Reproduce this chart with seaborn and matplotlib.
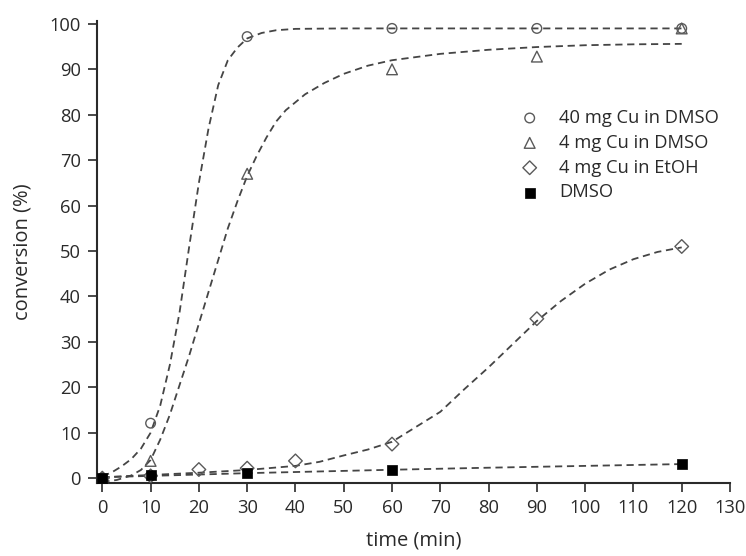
import matplotlib
matplotlib.use("Agg")
import matplotlib.pyplot as plt
import seaborn as sns

# measured points (time in min, conversion in %)
t_cu40 = [0, 10, 30, 60, 90, 120]
y_cu40 = [0, 12.1, 97.2, 99.0, 99.0, 99.0]

t_cu4 = [0, 10, 30, 60, 90, 120]
y_cu4 = [0, 3.8, 67.0, 90.0, 92.8, 99.0]

t_etoh = [0, 10, 20, 30, 40, 60, 90, 120]
y_etoh = [0, 0.5, 1.9, 2.2, 3.8, 7.5, 35.1, 51.0]

t_dmso = [0, 10, 30, 60, 120]
y_dmso = [0.1, 0.6, 1.1, 1.8, 3.15]

# fitted curves
fit_t_cu40 = [0, 2, 4, 6, 8, 10, 12, 14, 16, 18, 20, 22, 24, 26, 28, 30, 33, 36, 40, 50, 60, 90, 120]
fit_y_cu40 = [0.4, 1.3, 2.6, 4.2, 6.5, 10.0, 16.0, 25.0, 36.5, 51.0, 65.0, 77.0, 86.5, 92.0, 94.8, 96.8,
              98.0, 98.6, 98.9, 99.0, 99.0, 99.0, 99.0]

fit_t_cu4 = [0, 3, 6, 8, 10, 12, 14, 16, 18, 20, 22, 24, 26, 28, 30, 32, 34, 36, 38, 42, 46, 50, 55,
             60, 70, 80, 90, 100, 110, 120]
fit_y_cu4 = [-0.8, -0.4, 0.6, 1.8, 4.0, 8.5, 14.0, 20.5, 27.0, 34.0, 41.0, 48.0, 55.0, 61.0, 66.5, 71.0,
             75.0, 78.5, 81.0, 84.5, 87.0, 89.0, 90.8, 92.0, 93.4, 94.3, 94.9, 95.3, 95.5, 95.6]

fit_t_etoh = [0, 10, 20, 30, 40, 45, 50, 55, 60, 65, 70, 75, 80, 85, 90, 95, 100, 105, 110, 115, 120]
fit_y_etoh = [0.2, 0.7, 1.2, 1.8, 2.7, 3.6, 5.0, 6.3, 8.0, 11.3, 14.6, 19.6, 24.4, 29.5, 34.6, 39.0,
              42.8, 45.9, 48.2, 49.8, 50.8]

fit_t_dmso = [0, 10, 20, 30, 40, 60, 80, 100, 120]
fit_y_dmso = [0.2, 0.5, 0.8, 1.1, 1.35, 1.85, 2.3, 2.7, 3.1]

labels = ["40 mg Cu in DMSO", "4 mg Cu in DMSO", "4 mg Cu in EtOH", "DMSO"]
x_ticks = list(range(0, 131, 10))
y_ticks = list(range(0, 101, 10))

sns.set_style("ticks")
plt.rcParams["font.family"] = ["Open Sans", "DejaVu Sans"]
plt.rcParams["text.color"] = "#2a2a2a"
plt.rcParams["axes.labelcolor"] = "#2a2a2a"
plt.rcParams["xtick.color"] = "#2a2a2a"
plt.rcParams["ytick.color"] = "#2a2a2a"

fig = plt.figure(figsize=(7.46, 5.56), dpi=100)
ax = fig.add_axes([97 / 746, 1 - 482.7 / 556, (730 - 97) / 746, (482.7 - 20.7) / 556])

line_kw = dict(color="#454545", linewidth=1.3, linestyle=(0, (4, 2.6)), estimator=None, sort=False,
               zorder=2)
sns.lineplot(x=fit_t_cu40, y=fit_y_cu40, ax=ax, **line_kw)
sns.lineplot(x=fit_t_cu4, y=fit_y_cu4, ax=ax, **line_kw)
sns.lineplot(x=fit_t_etoh, y=fit_y_etoh, ax=ax, **line_kw)
sns.lineplot(x=fit_t_dmso, y=fit_y_dmso, ax=ax, **line_kw)

edge = "#5a5a5a"
sns.scatterplot(x=t_cu40, y=y_cu40, ax=ax, marker="o", s=48, facecolors="none", edgecolor=edge,
                linewidth=1.0, label=labels[0], zorder=3)
sns.scatterplot(x=t_cu4, y=y_cu4, ax=ax, marker="^", s=60, facecolors="none", edgecolor=edge,
                linewidth=1.0, label=labels[1], zorder=3)
sns.scatterplot(x=t_etoh, y=y_etoh, ax=ax, marker="D", s=48, facecolors="none", edgecolor=edge,
                linewidth=1.0, label=labels[2], zorder=3)
sns.scatterplot(x=t_dmso, y=y_dmso, ax=ax, marker="s", s=45, color="black", edgecolor="black",
                linewidth=0.5, label=labels[3], zorder=4)

ax.set_xlim(-1.1, 130)
ax.set_ylim(-1, 100.7)
ax.set_xticks(x_ticks)
ax.set_yticks(y_ticks)
ax.tick_params(direction="out", length=6.5, width=1.2, labelsize=13.2, pad=5)
for side in ["left", "bottom"]:
    ax.spines[side].set_linewidth(1.5)
    ax.spines[side].set_color("#2a2a2a")
sns.despine(ax=ax)

ax.set_xlabel("time (min)", fontsize=14.5, labelpad=10)
ax.set_ylabel("conversion (%)", fontsize=14.5, labelpad=12)

ax.legend(loc="upper left", bbox_to_anchor=(0.643, 0.845), frameon=False, fontsize=13.2,
          handlelength=1.0, handletextpad=1.1, labelspacing=0.375, borderpad=0.4)

fig.savefig("out.png", dpi=100)
